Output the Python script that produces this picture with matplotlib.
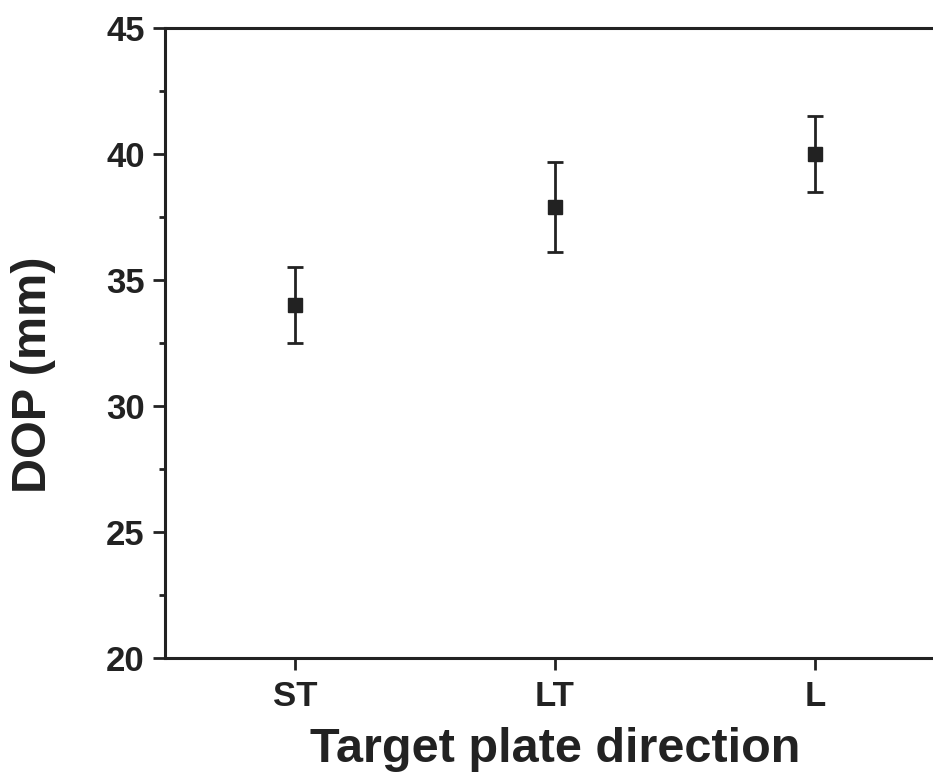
import matplotlib.pyplot as plt
import numpy as np
from matplotlib.ticker import MultipleLocator

# data
directions = ['ST', 'LT', 'L']
dop_mean = [34.0, 37.9, 40.0]
dop_err = [1.5, 1.8, 1.5]

INK = '#222222'

plt.rcParams['font.family'] = ['Liberation Sans', 'DejaVu Sans']
plt.rcParams['font.weight'] = 'bold'

W, H = 933, 775
fig = plt.figure(figsize=(W / 100, H / 100), dpi=100)
fig.patch.set_facecolor('white')
# axes runs past the right edge, as in the cropped original
ax = fig.add_axes([165 / W, (H - 658) / H, (945 - 165) / W, (658 - 28) / H])

x = np.arange(1, len(directions) + 1)
ax.errorbar(x, dop_mean, yerr=dop_err, fmt='s', color=INK, ecolor=INK,
            markersize=10, elinewidth=2.0, capsize=6, capthick=2.0)

ax.set_xlim(0.5, 3.5)
ax.set_ylim(20, 45)
ax.set_xticks(x)
ax.set_xticklabels(directions)
ax.yaxis.set_major_locator(MultipleLocator(5))
ax.yaxis.set_minor_locator(MultipleLocator(2.5))

ax.tick_params(axis='both', which='major', direction='out', length=8.5,
               width=2, color=INK, labelsize=25, labelcolor=INK)
ax.tick_params(axis='y', which='minor', direction='out', length=4.5,
               width=2, color=INK)
ax.tick_params(axis='x', pad=7)
ax.tick_params(axis='y', pad=6)

for s in ax.spines.values():
    s.set_linewidth(2.2)
    s.set_color(INK)

ax.set_ylabel('DOP (mm)', fontsize=35, fontweight='bold', color=INK)
ax.yaxis.set_label_coords(-0.14, 0.449)
ax.set_xlabel('Target plate direction', fontsize=35, fontweight='bold', color=INK)
ax.xaxis.set_label_coords(0.5, -0.11)

fig.savefig('out.png', dpi=100, facecolor='white')
